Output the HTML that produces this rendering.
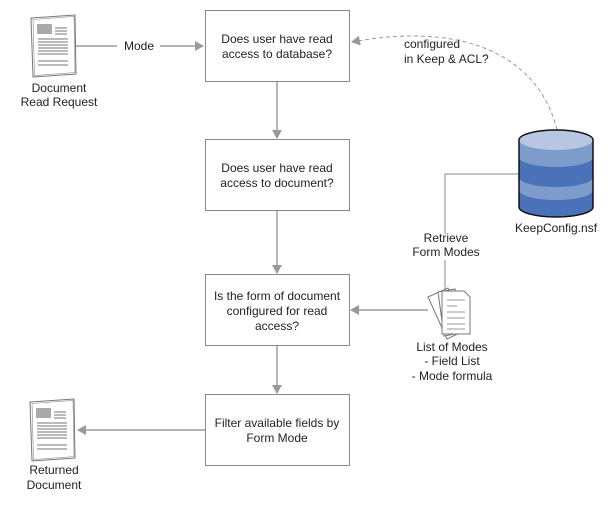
<!DOCTYPE html>
<html><head><meta charset="utf-8"><style>
body{margin:0;background:#fff;}
svg{display:block;font-family:"Liberation Sans",Arial,sans-serif;font-size:12px;fill:#222;}
</style></head><body>
<svg width="613" height="506" viewBox="0 0 613 506" xmlns="http://www.w3.org/2000/svg">
<defs>
<marker id="a" markerWidth="10" markerHeight="10" refX="8" refY="5" orient="auto" markerUnits="userSpaceOnUse">
<path d="M0,0 L9,5 L0,10 Z" fill="#999"/></marker>
<g id="doc">
<path d="M0,3 L44,0 L45,59 L2,62 Z" fill="#fff" stroke="#777" stroke-width="1"/>
<path d="M2,4.5 L43,1.5 L44,57.5 L3.5,60.5 Z" fill="none" stroke="#888" stroke-width="0.6"/>
<rect x="6" y="9" width="15" height="10" fill="#aaa"/>
<path d="M24,13 h12 M24,16 h12 M24,19 h12 M7,24 h30 M7,27 h30 M7,30 h30 M7,33 h30 M7,36 h30 M7,39 h30 M7,46 h30 M7,50 h30" stroke="#777" stroke-width="1"/>
</g>
</defs>
<g fill="#fff" stroke="#888" stroke-width="1">
<rect x="205.5" y="10.5" width="144" height="71"/>
<rect x="205.5" y="139.5" width="144" height="71"/>
<rect x="205.5" y="274.5" width="144" height="71"/>
<rect x="205.5" y="394.5" width="144" height="71"/>
</g>
<g text-anchor="middle">
<text x="277" y="43">Does user have read</text><text x="277" y="58">access to database?</text>
<text x="277" y="172">Does user have read</text><text x="277" y="187">access to document?</text>
<text x="277" y="300">Is the form of document</text><text x="277" y="315">configured for read</text><text x="277" y="330">access?</text>
<text x="277" y="427">Filter available fields by</text><text x="277" y="442">Form Mode</text>
</g>
<g stroke="#888" stroke-width="1.2" fill="none" marker-end="url(#a)">
<line x1="277" y1="82" x2="277" y2="138"/>
<line x1="277" y1="211" x2="277" y2="273"/>
<line x1="277" y1="346" x2="277" y2="393"/>
<line x1="205" y1="430" x2="78" y2="430"/>
<line x1="428" y1="310" x2="351" y2="310"/>
<path d="M76,46 H117 M160,46 H203"/>
</g>
<text x="139" y="50" text-anchor="middle">Mode</text>
<use href="#doc" x="31" y="15"/>
<use href="#doc" x="30" y="399"/>
<text x="59" y="92" text-anchor="middle">Document</text>
<text x="59" y="106" text-anchor="middle">Read Request</text>
<text x="54" y="474" text-anchor="middle">Returned</text>
<text x="54" y="489" text-anchor="middle">Document</text>
<path d="M519,174 H445 V234 M445,260 V292" stroke="#888" stroke-width="1" fill="none"/>
<text x="446" y="242" text-anchor="middle">Retrieve</text>
<text x="446" y="256" text-anchor="middle">Form Modes</text>
<path d="M557,130 C540,60 470,20 352,42" stroke="#999" stroke-width="1" stroke-dasharray="4,3" fill="none" marker-end="url(#a)"/>
<text x="404" y="48">configured</text>
<text x="404" y="63">in Keep &amp; ACL?</text>
<g>
<path d="M519,140 V207 A37,10 0 0 0 593,207 V140 Z" fill="#4a72b8"/>
<path d="M519,140 A37,10 0 0 0 593,140 V157 A37,10 0 0 1 519,157 Z" fill="#7d9ccc"/>
<path d="M519,177 A37,10 0 0 0 593,177 V190 A37,10 0 0 1 519,190 Z" fill="#7d9ccc"/>
<ellipse cx="556" cy="140" rx="37" ry="10" fill="#b8c6e2"/>
<path d="M519,140 V207 A37,10 0 0 0 593,207 V140 A37,10 0 0 0 519,140 Z" fill="none" stroke="#111" stroke-width="1.5"/>
</g>
<text x="556" y="232" text-anchor="middle">KeepConfig.nsf</text>
<g stroke="#777" stroke-width="1" fill="#fff">
<path d="M428,297 L448,288 L466,330 L447,339 Z"/>
<path d="M438,292 L455,289 L460,333 L444,336 Z"/>
<path d="M442,291 H464 L470,297 V334 H442 Z"/>
<path d="M447,300 h18 M447,306 h10 M447,312 h18 M447,318 h18 M447,324 h18 M447,329 h18" stroke-width="0.8"/>
</g>
<text x="452" y="351" text-anchor="middle">List of Modes</text>
<text x="452" y="365" text-anchor="middle">- Field List</text>
<text x="452" y="380" text-anchor="middle">- Mode formula</text>
</svg>
</body></html>
